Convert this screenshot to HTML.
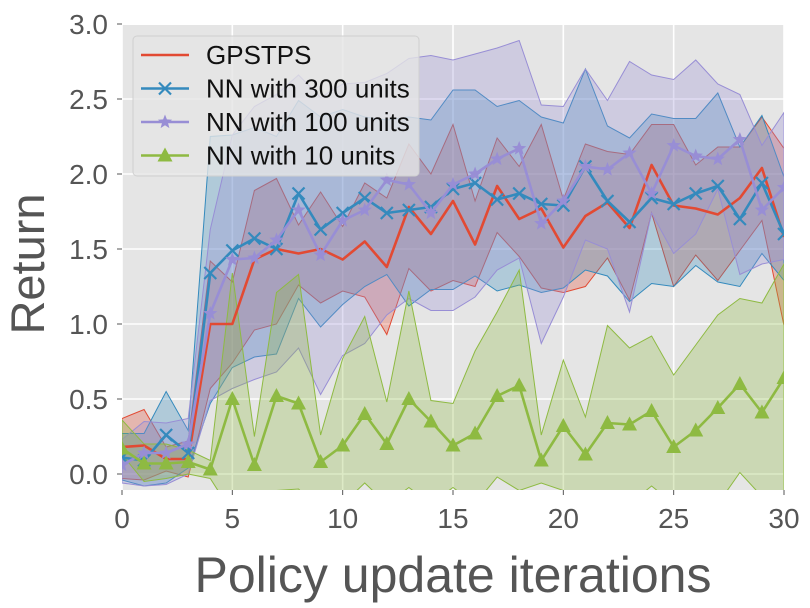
<!DOCTYPE html>
<html><head><meta charset="utf-8"><style>
html,body{margin:0;padding:0;background:#fff;}
svg{display:block;font-family:"Liberation Sans","DejaVu Sans",sans-serif;}
</style></head><body>
<svg id="chart" width="810" height="608" viewBox="0 0 810 608" xmlns="http://www.w3.org/2000/svg"></svg>
<script>
const iterations = Array.from({length:31},(_,i)=>i);
const gpsMean = [0.18,0.19,0.10,0.10,1.0,1.0,1.43,1.50,1.47,1.50,1.43,1.55,1.38,1.78,1.60,1.82,1.53,1.92,1.70,1.77,1.51,1.72,1.81,1.64,2.06,1.79,1.77,1.73,1.84,2.04,1.58];
const gpsUpper = [0.37,0.43,0.18,0.22,1.42,1.28,1.89,1.97,1.66,1.88,1.65,1.94,1.84,2.20,2.00,2.33,1.82,2.24,2.05,2.33,1.83,2.20,2.15,2.13,2.33,2.33,2.06,2.18,2.18,2.38,2.17];
const gpsLower = [-0.03,-0.04,0.02,-0.02,0.57,0.74,0.96,1.00,1.26,1.14,1.22,1.18,0.93,1.37,1.22,1.29,1.25,1.61,1.45,1.24,1.21,1.25,1.44,1.16,1.74,1.25,1.46,1.29,1.49,1.69,0.99];
const nn300Mean = [0.11,0.09,0.26,0.14,1.34,1.49,1.57,1.50,1.87,1.63,1.74,1.84,1.74,1.76,1.78,1.90,1.94,1.83,1.87,1.80,1.79,2.05,1.82,1.68,1.84,1.80,1.87,1.92,1.70,1.94,1.60];
const nn300Upper = [0.27,0.27,0.55,0.29,2.25,2.26,2.31,2.25,2.49,2.38,2.43,2.38,2.36,2.38,2.36,2.56,2.56,2.45,2.49,2.38,2.34,2.70,2.32,2.24,2.40,2.37,2.37,2.54,2.18,2.39,1.98];
const nn300Lower = [-0.04,-0.08,-0.06,0.04,0.47,0.71,0.78,0.80,1.17,0.98,1.13,1.25,1.33,1.12,1.23,1.23,1.32,1.22,1.26,1.21,1.24,1.36,1.32,1.15,1.27,1.25,1.39,1.28,1.25,1.47,1.29];
const nn100Mean = [0.06,0.14,0.14,0.20,1.07,1.43,1.44,1.56,1.76,1.46,1.69,1.76,1.96,1.93,1.74,1.93,2.00,2.10,2.17,1.67,1.82,2.05,2.03,2.14,1.87,2.19,2.12,2.10,2.23,1.76,1.91];
const nn100Upper = [0.23,0.35,0.34,0.37,1.63,2.26,2.45,2.53,2.66,2.51,2.60,2.61,2.67,2.77,2.79,2.76,2.80,2.84,2.89,2.46,2.45,2.70,2.49,2.75,2.66,2.63,2.76,2.60,2.53,2.19,2.41];
const nn100Lower = [-0.06,-0.08,-0.07,0.00,0.49,0.57,0.63,0.68,0.84,0.53,0.79,0.87,1.06,1.17,1.09,1.09,1.18,1.36,1.44,0.87,1.18,1.56,1.50,1.08,1.74,1.47,1.60,1.90,1.33,1.40,1.43];
const nn10Mean = [0.17,0.07,0.07,0.08,0.03,0.50,0.06,0.52,0.47,0.08,0.19,0.40,0.20,0.50,0.35,0.19,0.27,0.52,0.59,0.09,0.32,0.13,0.34,0.33,0.42,0.18,0.29,0.44,0.60,0.41,0.64];
const nn10Upper = [0.36,0.20,0.20,0.16,0.09,1.34,0.25,1.21,1.33,0.26,0.77,1.05,0.48,1.22,0.49,0.47,0.82,1.08,1.36,0.26,0.76,0.38,0.99,0.84,0.92,0.66,0.86,1.06,1.17,1.14,1.40];
const nn10Lower = [0.13,-0.05,-0.03,0.00,-0.03,-0.26,-0.2,-0.11,-0.10,-0.25,-0.2,-0.06,-0.2,-0.09,-0.2,-0.09,-0.2,-0.02,-0.11,-0.06,-0.11,-0.12,-0.15,-0.2,-0.08,-0.2,-0.2,-0.2,0.01,-0.15,-0.2];
const xTicks = [0,5,10,15,20,25,30];
const yTicks = [0.0,0.5,1.0,1.5,2.0,2.5,3.0];
const legendLabels = ["GPSTPS","NN with 300 units","NN with 100 units","NN with 10 units"];

const NS="http://www.w3.org/2000/svg";
const svg=document.getElementById('chart');
const L=122,R=784,T=25,B=490;
const X=v=>L+(v-0)/(30-0)*(R-L);
const Y=v=>474-v*150;
function mk(tag,attrs,parent){const e=document.createElementNS(NS,tag);for(const k in attrs)e.setAttribute(k,attrs[k]);(parent||svg).appendChild(e);return e;}

const defs=mk('defs',{});
const cp=mk('clipPath',{id:'clip'},defs);mk('rect',{x:L,y:T,width:R-L,height:B-T},cp);

const bg=mk('rect',{x:L,y:T,width:R-L,height:B-T,fill:'#E5E5E5'});



const grid=mk('g',{stroke:'#fff','stroke-width':1.6});


xTicks.forEach(t=>mk('line',{x1:X(t),x2:X(t),y1:T,y2:B},grid));
yTicks.forEach(t=>mk('line',{x1:L,x2:R,y1:Y(t),y2:Y(t)},grid));

const plot=mk('g',{'clip-path':'url(#clip)'});



const series=[
 {name:'gpstps',color:'#E24A33',mean:gpsMean,up:gpsUpper,lo:gpsLower,marker:'none'},
 {name:'nn-300',color:'#348ABD',mean:nn300Mean,up:nn300Upper,lo:nn300Lower,marker:'x'},
 {name:'nn-100',color:'#988ED5',mean:nn100Mean,up:nn100Upper,lo:nn100Lower,marker:'star'},
 {name:'nn-10',color:'#8EBA42',mean:nn10Mean,up:nn10Upper,lo:nn10Lower,marker:'tri'}
];
function marker(type,cx,cy,color,parent){
 if(type==='x'){const g=mk('g',{stroke:color,'stroke-width':2.2},parent);mk('line',{x1:cx-6,y1:cy-6,x2:cx+6,y2:cy+6},g);mk('line',{x1:cx-6,y1:cy+6,x2:cx+6,y2:cy-6},g);return g;}
 if(type==='star'){let p=[];for(let k=0;k<10;k++){const r=k%2?3.2:7.5;const a=-Math.PI/2+k*Math.PI/5;p.push((cx+r*Math.cos(a)).toFixed(1)+','+(cy+r*Math.sin(a)).toFixed(1));}return mk('polygon',{points:p.join(' '),fill:color},parent);}
 if(type==='tri'){return mk('polygon',{points:`${cx},${cy-8} ${cx-7.5},${cy+6} ${cx+7.5},${cy+6}`,fill:color},parent);}
}
series.forEach(s=>{
 const pts=iterations.map((x,i)=>X(x)+','+Y(s.up[i])).concat(iterations.slice().reverse().map((x)=>X(x)+','+Y(s.lo[x])));
 const band=mk('polygon',{points:pts.join(' '),fill:s.color,'fill-opacity':0.3,stroke:s.color,'stroke-width':1},plot);
 
 
});
series.forEach(s=>{
 const g=mk('g',{},plot);
 
 
 const ln=mk('polyline',{points:iterations.map((x,i)=>X(x)+','+Y(s.mean[i])).join(' '),fill:'none',stroke:s.color,'stroke-width':2.6,'stroke-linejoin':'round'},g);
 
 
 if(s.marker!=='none')iterations.forEach((x,i)=>{const m=marker(s.marker,X(x),Y(s.mean[i]),s.color,g);
  
  });
});

const tk=mk('g',{fill:'#555','font-size':28});


xTicks.forEach(t=>{const e=mk('text',{x:X(t),y:528,'text-anchor':'middle'},tk);e.textContent=t;
 
 });
yTicks.forEach(t=>{const e=mk('text',{x:108,y:Y(t)+10,'text-anchor':'end'},tk);e.textContent=t.toFixed(1);
 
 });
const tm=mk('g',{stroke:'#555','stroke-width':1});
yTicks.forEach(t=>mk('line',{x1:L-5,x2:L,y1:Y(t),y2:Y(t)},tm));
xTicks.forEach(t=>mk('line',{x1:X(t),x2:X(t),y1:B,y2:B+5},tm));

const xl=mk('text',{x:453,y:592,'text-anchor':'middle','font-size':50,fill:'#555'});xl.textContent='Policy update iterations';


const yl=mk('text',{x:0,y:0,'text-anchor':'middle','font-size':47,fill:'#555',transform:'translate(44,264) rotate(-90)'});yl.textContent='Return';



const lg=mk('g',{});


mk('rect',{x:133,y:36,width:286,height:140,rx:4,fill:'#E5E5E5','fill-opacity':0.8,stroke:'#d0d0d0','stroke-width':1},lg);
series.forEach((s,i)=>{
 const y=55+i*33.5;
 const e=mk('g',{},lg);
 
 
 mk('line',{x1:141,x2:189,y1:y,y2:y,stroke:s.color,'stroke-width':2.6},e);
 if(s.marker!=='none')marker(s.marker,165,y,s.color,e);
 const t=mk('text',{x:206,y:y+9,'font-size':26,fill:'#111'},e);t.textContent=legendLabels[i];
});
</script>
</body></html>
